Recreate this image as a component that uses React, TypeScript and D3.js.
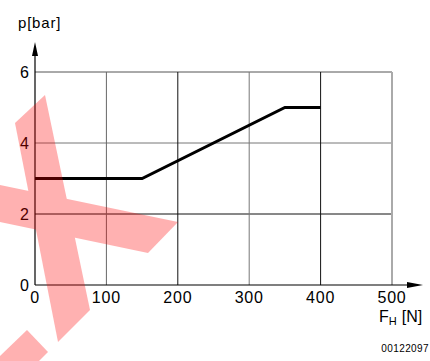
import React from "react";
import * as d3 from "d3";

const xTicks = [0, 100, 200, 300, 400, 500];
const yTicks = [0, 2, 4, 6];
const forceN = [0, 150, 350, 400];
const pressureBar = [3, 3, 5, 5];
const xGridTone = ["#000", "#666", "#111", "#777", "#111", "#aaa"];
const yGridTone = ["#000", "#111", "#777", "#555"];
const docCode = "00122097";

// decorative red "X" overlay (image-space polygons)
const overlayBands: [number, number][][] = [
  [[45, 95], [15, 123], [58, 342], [90, 310]],
  [[0, 185], [178, 222], [148, 253], [0, 222]],
  [[27, 330], [48, 352], [39, 361], [0, 361], [0, 356]],
];

export default function App() {
  const W = 430, H = 361;
  const x = d3.scaleLinear().domain([0, 500]).range([35, 392]);
  const y = d3.scaleLinear().domain([0, 6]).range([285, 72]);
  const line = d3.line<number>().x((_, i) => x(forceN[i])).y((d) => y(d));
  const font = "'Liberation Sans', Arial, Helvetica, sans-serif";
  const x0 = x(0), y0 = y(0);
  const yTop = 42, xEnd = 423;

  return (
    <svg width={W} height={H} style={{ position: "absolute", left: 0, top: 0, background: "#fff" }} fontFamily={font}>
      <rect width={W} height={H} fill="#fff" />
      {/* grid */}
      {yTicks.filter((t) => t > 0).map((t, i) => (
        <line key={"hy" + t} x1={x0} x2={x(500)} y1={y(t)} y2={y(t)} stroke={yGridTone[i + 1]} strokeWidth={1} />
      ))}
      {xTicks.filter((t) => t > 0).map((t, i) => (
        <line key={"vx" + t} x1={x(t)} x2={x(t)} y1={y(6)} y2={y0} stroke={xGridTone[i + 1]} strokeWidth={t === 500 ? 2 : 1} />
      ))}
      {/* axes */}
      <line x1={x0} x2={xEnd - 10} y1={y0} y2={y0} stroke="#000" strokeWidth={1.2} />
      <path d={`M${xEnd},${y0} L${xEnd - 16},${y0 - 3} L${xEnd - 16},${y0 + 3} Z`} fill="#000" />
      <line x1={x0} x2={x0} y1={y0} y2={yTop + 10} stroke="#000" strokeWidth={1.2} />
      <path d={`M${x0},${yTop} L${x0 - 3},${yTop + 14} L${x0 + 3},${yTop + 14} Z`} fill="#000" />
      {/* data */}
      <path d={line(pressureBar) || ""} fill="none" stroke="#000" strokeWidth={3} strokeLinejoin="miter" />
      {/* tick labels */}
      {yTicks.map((t) => (
        <text key={"ty" + t} x={29} y={y(t) + 6} fontSize={16} textAnchor="end" fill="#000">{t}</text>
      ))}
      {xTicks.map((t) => (
        <text key={"tx" + t} x={x(t)} y={303} fontSize={16} letterSpacing={0.8} textAnchor="middle" fill="#000">{t}</text>
      ))}
      <text x={18} y={28} fontSize={15} letterSpacing={0.8} fill="#000">p[bar]</text>
      <text x={379} y={322} fontSize={16} fill="#000">
        F<tspan fontSize={11} dy={3}>H</tspan><tspan dy={-3} dx={5}>[N]</tspan>
      </text>
      <text x={429} y={352} fontSize={10} letterSpacing={0.4} textAnchor="end" fill="#000">{docCode}</text>
      {/* overlay */}
      <g opacity={0.3}>
        {overlayBands.map((pts, i) => (
          <polygon key={"ov" + i} points={pts.map((p) => p.join(",")).join(" ")} fill="#ff0000" />
        ))}
      </g>
    </svg>
  );
}
